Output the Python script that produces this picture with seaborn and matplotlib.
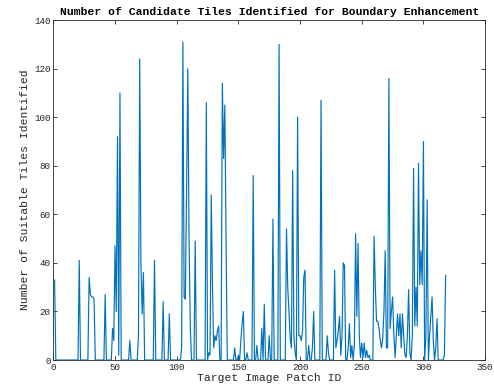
import numpy as np
import pandas as pd
import matplotlib
matplotlib.use("Agg")
import matplotlib.pyplot as plt
import seaborn as sns

# Number of suitable tiles identified per target image patch (IDs 1..318)
tile_counts = [
    33, 0, 0, 0, 0, 0, 0, 0, 0, 0,          # 1-10
    0, 0, 0, 0, 0, 0, 0, 0, 0, 0,           # 11-20
    41, 0, 0, 0, 0, 0, 0, 0, 34, 27,        # 21-30
    26, 26, 25, 0, 0, 0, 0, 0, 0, 0,        # 31-40
    0, 27, 0, 0, 0, 0, 0, 13, 8, 47,        # 41-50
    20, 92, 2, 110, 0, 0, 0, 0, 0, 0,       # 51-60
    0, 8, 0, 0, 0, 0, 0, 0, 10, 124,        # 61-70
    40, 19, 36, 0, 0, 0, 0, 0, 0, 0,        # 71-80
    0, 41, 0, 0, 0, 0, 0, 0, 24, 0,         # 81-90
    0, 0, 0, 19, 0, 0, 0, 0, 0, 0,          # 91-100
    0, 0, 0, 5, 131, 26, 25, 70, 120, 50,   # 101-110
    14, 0, 0, 0, 49, 0, 0, 0, 0, 0,         # 111-120
    0, 0, 0, 106, 0, 3, 2, 68, 30, 5,       # 121-130
    10, 8, 12, 14, 0, 0, 114, 83, 105, 50,  # 131-140
    0, 0, 0, 0, 0, 0, 5, 0, 0, 2,           # 141-150
    0, 8, 15, 20, 0, 0, 3, 0, 0, 0,         # 151-160
    0, 76, 0, 0, 6, 0, 0, 0, 13, 0,         # 161-170
    23, 0, 0, 0, 10, 0, 0, 58, 0, 0,        # 171-180
    0, 0, 130, 0, 0, 0, 0, 0, 54, 30,       # 181-190
    20, 9, 5, 78, 10, 3, 0, 100, 10, 10,    # 191-200
    8, 12, 34, 37, 0, 0, 6, 0, 0, 5,        # 201-210
    20, 0, 0, 0, 0, 0, 107, 0, 0, 0,        # 211-220
    0, 10, 3, 0, 0, 0, 0, 37, 5, 8,         # 221-230
    12, 18, 2, 10, 40, 39, 0, 0, 5, 15,     # 231-240
    1, 6, 0, 6, 52, 18, 48, 10, 1, 7,       # 241-250
    1, 7, 1, 4, 1, 2, 0, 0, 0, 51,          # 251-260
    30, 16, 16, 13, 8, 5, 9, 20, 45, 5,     # 261-270
    5, 116, 13, 20, 26, 11, 1, 10, 19, 10,  # 271-280
    19, 5, 19, 10, 2, 1, 10, 29, 3, 0,      # 281-290
    10, 79, 14, 30, 14, 81, 31, 45, 31, 90, # 291-300
    0, 10, 66, 0, 10, 18, 26, 8, 0, 5,      # 301-310
    17, 0, 0, 0, 0, 0, 2, 35,               # 311-318
]
patch_ids = list(range(1, len(tile_counts) + 1))

title_text = "Number of Candidate Tiles Identified for Boundary Enhancement"
x_label = "Target Image Patch ID"
y_label = "Number of Suitable Tiles Identified"
x_ticks = [0, 50, 100, 150, 200, 250, 300, 350]
y_ticks = [0, 20, 40, 60, 80, 100, 120, 140]

df = pd.DataFrame({"patch": patch_ids, "count": tile_counts})

sns.set_style("ticks")
plt.rcParams["font.family"] = ["Liberation Mono", "DejaVu Sans Mono"]

fig = plt.figure(figsize=(4.94, 3.92), dpi=100)
ax = fig.add_axes([0.108, 0.0816, 0.874, 0.867])

sns.lineplot(data=df, x="patch", y="count", ax=ax, color="#0072BD",
             linewidth=0.85, estimator=None)

ax.set_xlim(0, 350)
ax.set_ylim(0, 140)
ax.set_xticks(x_ticks)
ax.set_yticks(y_ticks)
ax.tick_params(direction="in", length=3, width=0.6, colors="#262626",
               labelsize=6.7, top=True, right=True, pad=2)
for s in ax.spines.values():
    s.set_visible(True)
    s.set_color("#262626")
    s.set_linewidth(0.6)

ax.set_xlabel(x_label, fontsize=8.2, color="#262626", labelpad=1)
ax.set_ylabel(y_label, fontsize=8.2, color="#262626", labelpad=3)
ax.set_title(title_text, fontsize=8.2, fontweight="bold", color="black", pad=4)

fig.savefig("out.png", dpi=100, facecolor="white")
